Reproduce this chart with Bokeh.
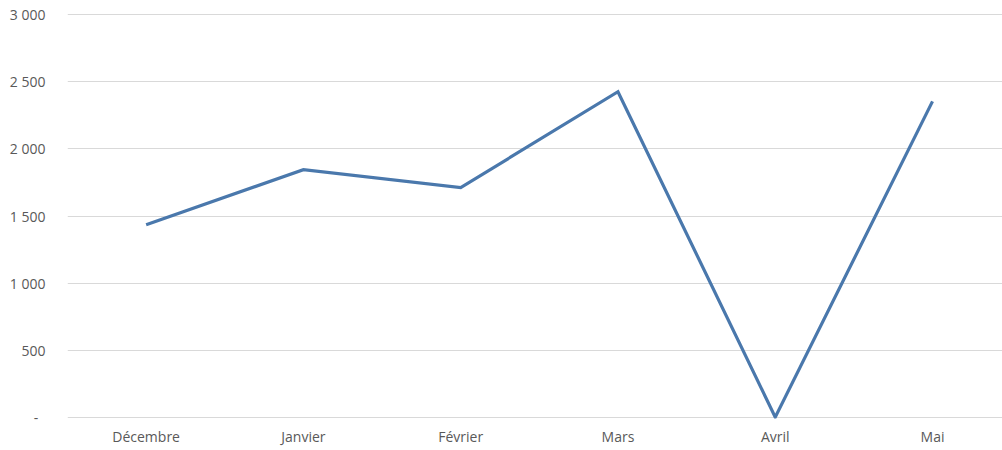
from bokeh.plotting import figure
from bokeh.models import Range1d, FixedTicker, ColumnDataSource
from bokeh.embed import file_html
from bokeh.resources import INLINE

# Monthly totals
months = ["Décembre", "Janvier", "Février", "Mars", "Avril", "Mai"]
totals = [1435, 1845, 1712, 2427, 0, 2355]

# Value axis ticks and their French-formatted labels
y_ticks = [0, 500, 1000, 1500, 2000, 2500, 3000]
y_tick_labels = ["-\u00a0\u00a0", "500", "1\u00a0000", "1\u00a0500", "2\u00a0000", "2\u00a0500", "3\u00a0000"]

xs = list(range(len(months)))
src = ColumnDataSource(data=dict(x=xs, y=totals))

p = figure(
    width=1002, height=450,
    output_backend="svg", toolbar_location=None,
    x_range=Range1d(-0.5, 5.445), y_range=Range1d(-10, 3010),
    min_border_left=67, min_border_right=0, min_border_top=13, min_border_bottom=32,
)
p.outline_line_color = None
p.background_fill_color = "white"
p.border_fill_color = "white"

p.line("x", "y", source=src, line_color="#4a78ac", line_width=3.2, line_join="miter")

font = "Open Sans"
label_color = "#595959"

p.xaxis.ticker = FixedTicker(ticks=xs)
p.xaxis.major_label_overrides = {i: m for i, m in enumerate(months)}
p.yaxis.ticker = FixedTicker(ticks=y_ticks)
p.yaxis.major_label_overrides = {t: l for t, l in zip(y_ticks, y_tick_labels)}

for ax in (p.xaxis[0], p.yaxis[0]):
    ax.axis_line_color = None
    ax.major_tick_line_color = None
    ax.minor_tick_line_color = None
    ax.major_label_text_font = font
    ax.major_label_text_font_size = "14px"
    ax.major_label_text_color = label_color
p.yaxis.major_label_standoff = 16
p.xaxis.major_label_standoff = 2

p.xgrid.grid_line_color = None
p.ygrid.grid_line_color = "#d9d9d9"
p.ygrid.grid_line_width = 1

open("out.html", "w").write(file_html(p, INLINE))
